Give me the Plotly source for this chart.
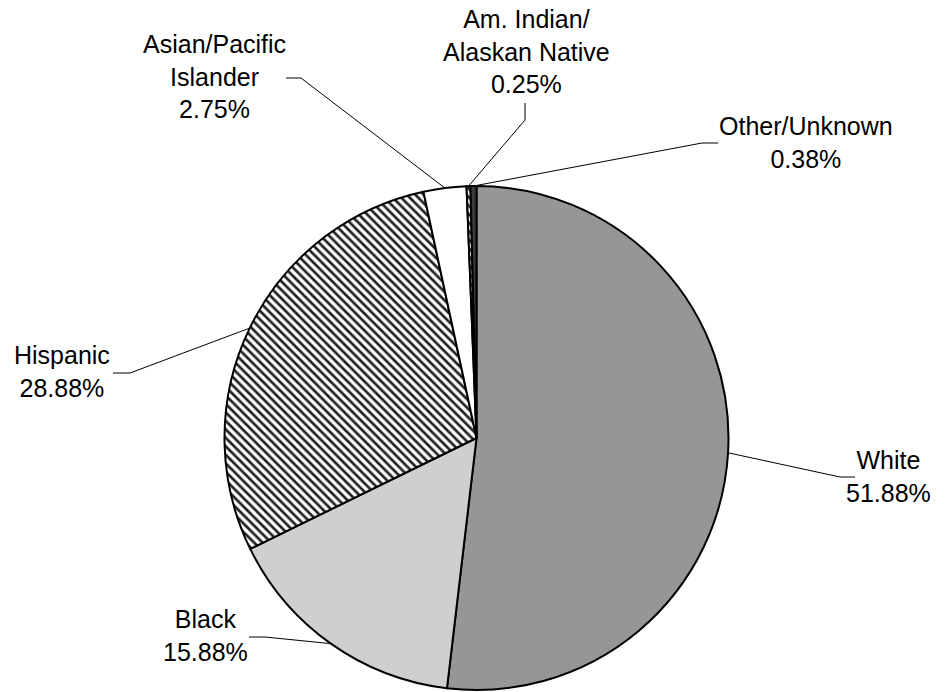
import math
import plotly.graph_objects as go

# ---- data ----
categories = ["White", "Black", "Hispanic", "Asian/Pacific<br>Islander",
              "Am. Indian/<br>Alaskan Native", "Other/Unknown"]
percentages = [51.88, 15.88, 28.88, 2.75, 0.25, 0.38]
pct_labels = ["51.88%", "15.88%", "28.88%", "2.75%", "0.25%", "0.38%"]

# ---- styles ----
W, H = 946, 692
fill_colors = ["#969696", "#ffffff", "#ffffff", "#ffffff", "#ffffff", "#3a3a3a"]
pattern_shapes = ["", ".", "\\", "", "\\", ""]
pattern_sizes = [8, 2, 6, 8, 6, 8]
pattern_solid = [0.3, 0.45, 0.45, 0.3, 0.45, 0.3]
pattern_fg = ["#111111", "#888888", "#222222", "#111111", "#222222", "#111111"]

# pie placement (pixels)
cx, cy, r = 476.5, 438.0, 252.0

# label layout: (elbow px, stub end px, text center px)
label_layout = [
    ((840, 477), (855, 477), (888, 476)),
    ((265, 637), (249, 637), (205, 635)),
    ((130, 373), (113, 373), (62, 371)),
    ((301, 78), (286, 78), (214, 77)),
    ((525, 120), (525, 103), (526, 51)),
    ((702, 143), (718, 143), (806, 142)),
]

def px(x):
    return x / W

def py(y):
    return 1 - y / H

fig = go.Figure()
fig.add_trace(go.Pie(
    labels=categories,
    values=percentages,
    sort=False,
    direction="clockwise",
    rotation=0,
    textinfo="none",
    hoverinfo="skip",
    showlegend=False,
    marker=dict(
        colors=fill_colors,
        line=dict(color="#000000", width=2),
        pattern=dict(shape=pattern_shapes, size=pattern_sizes,
                     solidity=pattern_solid, fgcolor=pattern_fg,
                     bgcolor=fill_colors, fillmode="replace"),
    ),
    domain=dict(x=[px(cx - r), px(cx + r)], y=[py(cy + r), py(cy - r)]),
))

total = sum(percentages)
cum = 0.0
shapes = []
annotations = []
for cat, v, pl, (elbow, stub, tc) in zip(categories, percentages, pct_labels, label_layout):
    mid = (cum + v / 2) / total * 2 * math.pi
    cum += v
    sx = cx + r * math.sin(mid)
    sy = cy - r * math.cos(mid)
    path = (f"M {px(sx)},{py(sy)} L {px(elbow[0])},{py(elbow[1])} "
            f"L {px(stub[0])},{py(stub[1])}")
    shapes.append(dict(type="path", xref="paper", yref="paper", path=path,
                       line=dict(color="#000000", width=1), layer="above"))
    annotations.append(dict(
        x=px(tc[0]), y=py(tc[1]), xref="paper", yref="paper",
        text=f"{cat}<br>{pl}", showarrow=False, align="center",
        xanchor="center", yanchor="middle",
        font=dict(family="Liberation Sans, Arial, sans-serif", size=25, color="#000000"),
    ))

fig.update_layout(
    width=W, height=H,
    margin=dict(l=0, r=0, t=0, b=0),
    paper_bgcolor="#ffffff",
    plot_bgcolor="#ffffff",
    shapes=shapes,
    annotations=annotations,
)

fig.write_html("out.html", config={"displayModeBar": False},
               post_script="document.body.style.margin='0';")
